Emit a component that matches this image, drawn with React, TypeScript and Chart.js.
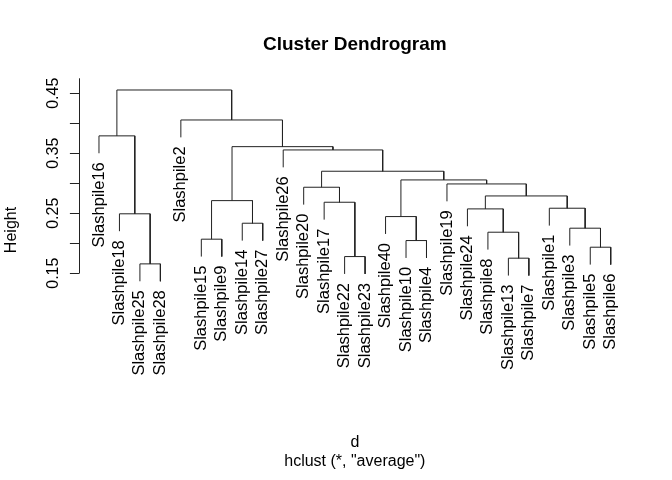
import React, { useEffect, useRef } from "react";
import { Chart, registerables } from "chart.js";

Chart.register(...registerables);

// Leaf labels in plotted order (left to right)
const leafLabels = [
  "Slashpile16", "Slashpile18", "Slashpile25", "Slashpile28", "Slashpile2",
  "Slashpile15", "Slashpile9", "Slashpile14", "Slashpile27", "Slashpile26",
  "Slashpile20", "Slashpile17", "Slashpile22", "Slashpile23", "Slashpile40",
  "Slashpile10", "Slashpile4", "Slashpile19", "Slashpile24", "Slashpile8",
  "Slashpile13", "Slashpile7", "Slashpile1", "Slashpile3", "Slashpile5",
  "Slashpile6",
];

// hclust-style merge table: negative = leaf position (1-based), positive = earlier merge row (1-based)
const mergeLeft = [-3, -21, -13, -25, -16, -6, -20, -24, -8, -15, -2, -19, -23, -12, 6, 12, -11, -18, 10, 17, -10, 15, -1, -5, 23];
const mergeRight = [-4, -22, -14, -26, -17, -7, 2, 4, -9, 5, 1, 7, 8, 3, 9, 13, 14, 16, 18, 19, 20, 21, 11, 22, 24];
const mergeHeight = [
  0.1655, 0.175, 0.1777, 0.1933, 0.2044, 0.2067, 0.2183, 0.225, 0.2333, 0.2444,
  0.249, 0.2572, 0.2583, 0.2683, 0.271, 0.2788, 0.2933, 0.2988, 0.3055, 0.320,
  0.3555, 0.361, 0.379, 0.4055, 0.4555,
];

const yTicks = [0.15, 0.2, 0.25, 0.3, 0.35, 0.4, 0.45];
const yTickLabels = ["0.15", "", "0.25", "", "0.35", "", "0.45"];

const titleText = "Cluster Dendrogram";
const xLabelText = "d";
const subText = 'hclust (*, "average")';
const yLabelText = "Height";

const FONT = '"Liberation Sans", Arial, Helvetica, sans-serif';
const LINE = "#222222";

function buildSegments() {
  const n = leafLabels.length;
  const hMax = Math.max(...mergeHeight);
  const hMin = Math.min(...mergeHeight);
  const hang = 0.1 * (hMax - hMin);
  const nodeX: number[] = [];
  const leafBottom: number[] = new Array(n + 1).fill(0);
  const segs: { x: number; y: number }[][] = [];
  const childX = (c: number) => (c < 0 ? -c : nodeX[c - 1]);
  for (let i = 0; i < mergeHeight.length; i++) {
    const h = mergeHeight[i];
    const l = mergeLeft[i];
    const r = mergeRight[i];
    const xl = childX(l);
    const xr = childX(r);
    const yl = l < 0 ? h - hang : mergeHeight[l - 1];
    const yr = r < 0 ? h - hang : mergeHeight[r - 1];
    if (l < 0) leafBottom[-l] = h - hang;
    if (r < 0) leafBottom[-r] = h - hang;
    nodeX.push((xl + xr) / 2);
    segs.push([
      { x: xl, y: yl },
      { x: xl, y: h },
      { x: xr, y: h },
      { x: xr, y: yr },
    ]);
  }
  return { segs, leafBottom, n };
}

export default function App() {
  const ref = useRef<HTMLCanvasElement | null>(null);

  useEffect(() => {
    if (!ref.current) return;
    const { segs, leafBottom, n } = buildSegments();

    const textPlugin = {
      id: "dendroText",
      afterDatasetsDraw(chart: any) {
        const ctx = chart.ctx as CanvasRenderingContext2D;
        const xs = chart.scales.x;
        const ys = chart.scales.y;
        const area = chart.chartArea;
        ctx.save();
        ctx.fillStyle = "#000";
        ctx.strokeStyle = LINE;
        ctx.lineWidth = 1;

        // y axis line and ticks
        const ax = Math.round(area.left) + 0.5;
        ctx.beginPath();
        ctx.moveTo(ax, ys.getPixelForValue(yTicks[0]));
        ctx.lineTo(ax, area.top);
        ctx.stroke();
        yTicks.forEach((t, i) => {
          const py = Math.round(ys.getPixelForValue(t)) + 0.5;
          ctx.beginPath();
          ctx.moveTo(ax, py);
          ctx.lineTo(ax - 9.6, py);
          ctx.stroke();
          const lab = yTickLabels[i];
          if (lab) {
            ctx.save();
            ctx.translate(ax - 22, ys.getPixelForValue(t));
            ctx.rotate(-Math.PI / 2);
            ctx.font = `16px ${FONT}`;
            ctx.textAlign = "center";
            ctx.textBaseline = "alphabetic";
            ctx.fillText(lab, 0, 0);
            ctx.restore();
          }
        });

        // leaf labels
        ctx.font = `16.5px ${FONT}`;
        for (let k = 1; k <= n; k++) {
          const px = xs.getPixelForValue(k);
          const py = ys.getPixelForValue(leafBottom[k]);
          ctx.save();
          ctx.translate(px, py + 9);
          ctx.rotate(-Math.PI / 2);
          ctx.textAlign = "right";
          ctx.textBaseline = "middle";
          ctx.fillText(leafLabels[k - 1], 0, 0);
          ctx.restore();
        }

        const cx = (area.left + area.right) / 2;
        // title
        ctx.font = `bold 19px ${FONT}`;
        ctx.textAlign = "center";
        ctx.textBaseline = "alphabetic";
        ctx.fillText(titleText, cx, 50);
        // x label and sub
        ctx.font = `16px ${FONT}`;
        ctx.fillText(xLabelText, cx, 447);
        ctx.fillText(subText, cx, 466);
        // y label
        ctx.save();
        ctx.translate(16, (area.top + area.bottom) / 2);
        ctx.rotate(-Math.PI / 2);
        ctx.textAlign = "center";
        ctx.fillText(yLabelText, 0, 0);
        ctx.restore();

        ctx.restore();
      },
    };

    const chart = new Chart(ref.current, {
      type: "line",
      data: {
        datasets: segs.map((s) => ({
          data: s,
          borderColor: LINE,
          borderWidth: 1,
          pointRadius: 0,
          tension: 0,
          fill: false,
        })),
      },
      options: {
        animation: false,
        responsive: false,
        events: [],
        layout: { padding: { left: 78.5, right: 40.8, top: 78.3, bottom: 98.3 } },
        plugins: { legend: { display: false }, tooltip: { enabled: false }, title: { display: false } },
        scales: {
          x: { type: "linear", min: 0, max: 27, display: false },
          y: { type: "linear", min: -0.031, max: 0.475, display: false },
        },
      },
      plugins: [textPlugin],
    });
    return () => chart.destroy();
  }, []);

  return (
    <div style={{ position: "absolute", left: 0, top: 0, width: 672, height: 480, background: "#fff" }}>
      <canvas ref={ref} width={672} height={480} style={{ width: 672, height: 480 }} />
    </div>
  );
}
